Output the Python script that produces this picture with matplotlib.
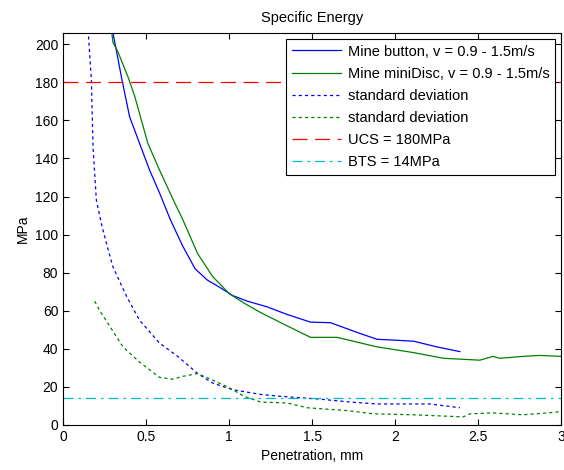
import matplotlib
matplotlib.use('Agg')
import matplotlib.pyplot as plt

plt.rcParams['font.family'] = ['Liberation Sans', 'DejaVu Sans']

# Mine button mean
btn_x = [0.28, 0.30, 0.355, 0.40, 0.46, 0.52, 0.58, 0.645, 0.72, 0.795, 0.87, 0.93, 1.02,
         1.11, 1.23, 1.35, 1.49, 1.61, 1.79, 1.89, 2.11, 2.25, 2.39]
btn_y = [220, 206, 181, 162, 148, 134, 122, 108, 94, 82, 76, 73, 68,
         65, 62, 58, 54, 53.7, 48, 45, 44, 41, 38.5]

# Mine miniDisc mean
disc_x = [0.28, 0.30, 0.33, 0.39, 0.43, 0.51, 0.58, 0.67, 0.72, 0.81, 0.90, 1.0, 1.09,
          1.19, 1.35, 1.49, 1.65, 1.89, 2.11, 2.29, 2.51, 2.59, 2.63, 2.77, 2.87, 3.0]
disc_y = [215, 201, 196, 183, 173, 148, 134, 117, 108, 90, 78, 69, 64,
          59, 52, 46, 46, 41, 38, 35, 34, 36, 35, 36, 36.5, 36]

# standard deviations
btn_sd_x = [0.14, 0.15, 0.17, 0.18, 0.20, 0.235, 0.265, 0.30, 0.385, 0.46, 0.58, 0.69,
            0.81, 0.90, 1.02, 1.19, 1.31, 1.47, 1.55, 1.73, 1.89, 2.21, 2.39]
btn_sd_y = [230, 208, 181, 146, 118, 104, 94, 83, 67, 55, 43, 36,
            27, 22, 18.5, 16, 15, 14, 13.5, 12, 11, 11, 9]

disc_sd_x = [0.19, 0.22, 0.28, 0.36, 0.46, 0.58, 0.66, 0.72, 0.81, 0.90, 0.99, 1.09,
             1.19, 1.35, 1.47, 1.71, 1.87, 2.11, 2.41, 2.45, 2.59, 2.77, 2.92, 3.0]
disc_sd_y = [65, 60, 52, 41, 33, 25, 24, 25.5, 27, 23.5, 20, 15,
             12, 11.5, 9, 7.5, 5.8, 5.3, 4.2, 5.8, 6.3, 5.3, 6.3, 7]

ucs = 180
bts = 14

fig = plt.figure(figsize=(5.64, 4.70), dpi=100)
ax = fig.add_axes([0.112, 0.096, 0.883, 0.834])

blue = (0, 0, 1)
green = (0, 0.5, 0)
red = (1, 0, 0)
cyan = (0, 0.75, 0.75)

ax.plot(btn_x, btn_y, color=blue, lw=0.9, label='Mine button, v = 0.9 - 1.5m/s')
ax.plot(disc_x, disc_y, color=green, lw=0.9, label='Mine miniDisc, v = 0.9 - 1.5m/s')
ax.plot(btn_sd_x, btn_sd_y, color=blue, lw=0.9, ls=(0, (2.5, 2.5)), label='standard deviation')
ax.plot(disc_sd_x, disc_sd_y, color=green, lw=0.9, ls=(0, (2.5, 2.5)), label='standard deviation')
ax.axhline(ucs, color=red, lw=0.9, ls=(0, (12, 6)), label='UCS = 180MPa')
ax.axhline(bts, color=cyan, lw=0.9, ls=(0, (8, 4, 2, 4)), label='BTS = 14MPa')

ax.set_xlim(0, 3)
ax.set_ylim(0, 206)
ax.set_xticks([0, 0.5, 1, 1.5, 2, 2.5, 3])
ax.set_xticklabels(['0', '0.5', '1', '1.5', '2', '2.5', '3'])
ax.set_yticks(range(0, 201, 20))
ax.tick_params(direction='in', top=True, right=True, labelsize=10, length=4, width=0.8)
for s in ax.spines.values():
    s.set_linewidth(0.8)

ax.set_title('Specific Energy', fontsize=10.5, pad=8)
ax.set_xlabel('Penetration, mm', fontsize=10)
ax.set_ylabel('MPa', fontsize=10, labelpad=4)

leg = ax.legend(loc='upper right', fontsize=10.5, fancybox=False, framealpha=1,
                edgecolor='black', handlelength=3.4, borderaxespad=0.4,
                labelspacing=0.56, handletextpad=0.45, borderpad=0.4)
leg.get_frame().set_linewidth(0.8)

fig.savefig('out.png', dpi=100)
